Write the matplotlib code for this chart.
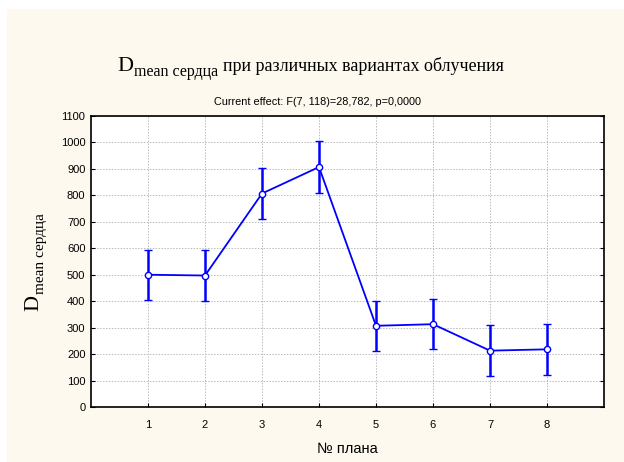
import matplotlib
matplotlib.use("Agg")
import matplotlib.pyplot as plt
from matplotlib.patches import Rectangle
import numpy as np

# средние значения Dmean сердца по планам и полуширина доверительного интервала
plans = [1, 2, 3, 4, 5, 6, 7, 8]
d_mean = [500, 497, 807, 907, 307, 313, 213, 218]
ci_half = [95, 96, 98, 98, 95, 95, 96, 96]
y_ticks = [0, 100, 200, 300, 400, 500, 600, 700, 800, 900, 1000, 1100]

W, H = 624, 462
serif = "Liberation Serif"
sans = "Liberation Sans"

fig = plt.figure(figsize=(W / 100, H / 100), dpi=100)
fig.patch.set_facecolor("white")
fig.patches.append(Rectangle((7 / W, 0), 1, 1 - 9 / H, transform=fig.transFigure,
                             facecolor="#FDF9EE", edgecolor="none", zorder=-10))

ax = fig.add_axes([91 / W, 55 / H, 513 / W, 291 / H])
ax.set_facecolor("white")

ax.errorbar(plans, d_mean, yerr=ci_half, color="#0000FF", lw=1.3,
            elinewidth=1.8, capsize=3, capthick=1.6,
            marker="o", markersize=4.5, markerfacecolor="white",
            markeredgecolor="#0000FF", markeredgewidth=1.0, zorder=3)

ax.set_xlim(0, 9)
ax.set_ylim(0, 1100)
ax.set_xticks(plans)
ax.set_yticks(y_ticks)
ax.grid(True, color="#BBBBBB", linestyle=(0, (1.5, 1.5)), linewidth=0.7)
ax.tick_params(direction="in", length=3, width=0.8, right=True, top=False,
               labelsize=8, pad=4)
for lbl in ax.get_xticklabels() + ax.get_yticklabels():
    lbl.set_family(sans)
ax.tick_params(axis="x", pad=9)
for s in ax.spines.values():
    s.set_linewidth(1.2)
    s.set_color("black")

ax.set_xlabel("№ плана", family=sans, fontsize=10.5, labelpad=9)

renderer = fig.canvas.get_renderer()


def px(x, y):
    return x / W, 1 - y / H


# заголовок: D с нижним индексом и остальная часть строки
x0, base = 117, 71
t = fig.text(*px(x0, base), "D", family=serif, fontsize=16, va="baseline", ha="left")
x0 += t.get_window_extent(renderer).width + 1
t = fig.text(*px(x0, base + 5), "mean сердца", family=serif, fontsize=11.5,
             va="baseline", ha="left")
x0 += t.get_window_extent(renderer).width + 5
fig.text(*px(x0, base), "при различных вариантах облучения",
         family=serif, fontsize=13, va="baseline", ha="left")

fig.text(*px(318, 105), "Current effect: F(7, 118)=28,782, p=0,0000",
         family=sans, fontsize=7.8, va="baseline", ha="center")

# подпись оси Y, повернутая
yx, y0 = 38, 311
t = fig.text(*px(yx, y0), "D", family=serif, fontsize=16, rotation=90,
             rotation_mode="anchor", va="baseline", ha="left")
h = t.get_window_extent(renderer).height
fig.text(*px(yx + 6, y0 - h - 1), "mean сердца", family=serif, fontsize=11, rotation=90,
         rotation_mode="anchor", va="baseline", ha="left")

fig.savefig("out.png", dpi=100, facecolor=fig.get_facecolor())
